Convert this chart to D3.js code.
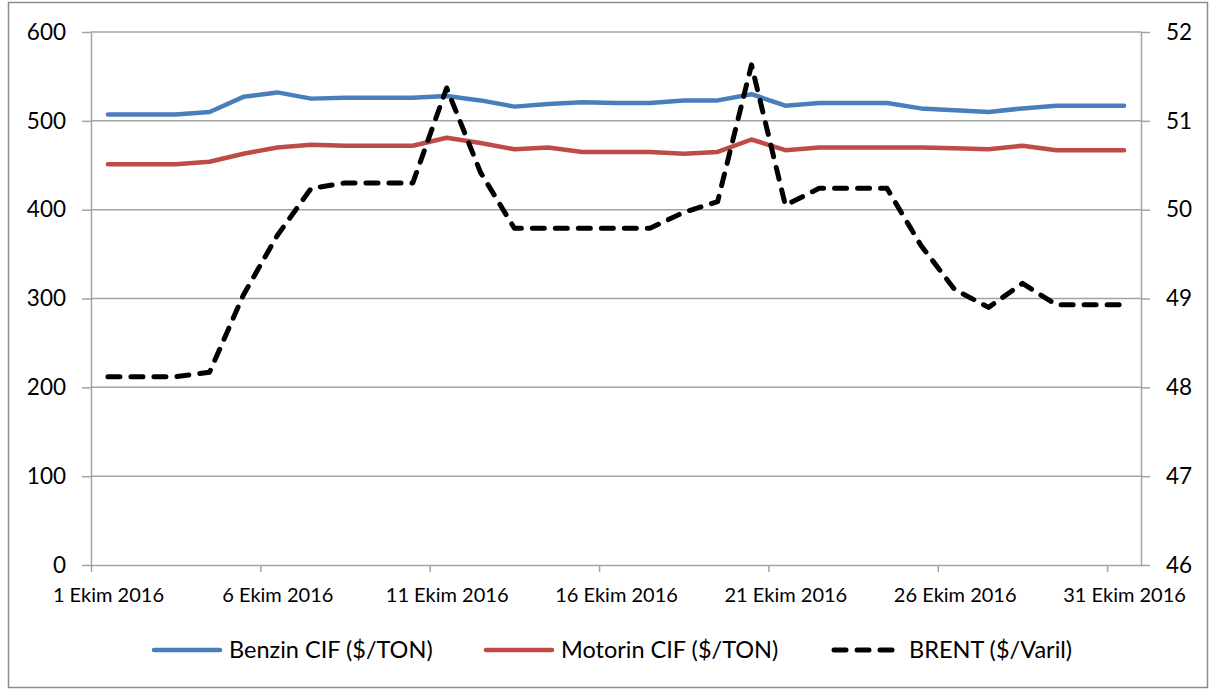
<!DOCTYPE html>
<html>
<head>
<meta charset="utf-8">
<script src="https://cdn.jsdelivr.net/npm/d3@7"></script>
<style>
  body { margin: 0; background: #fff; }
  svg { font-family: Lato, "Liberation Sans", sans-serif; }
</style>
</head>
<body>
<svg width="1210" height="690"></svg>
<script>
// October 2016, one value per day
const days = [1, 2, 3, 4, 5, 6, 7, 8, 9, 10, 11, 12, 13, 14, 15, 16, 17, 18, 19, 20, 21, 22, 23, 24, 25, 26, 27, 28, 29, 30, 31];
const benzin = [507, 507, 507, 510, 527, 532, 525, 526, 526, 526, 528, 523, 516, 519, 521, 520, 520, 523, 523, 530, 517, 520, 520, 520, 514, 512, 510, 514, 517, 517, 517];
const motorin = [451, 451, 451, 454, 463, 470, 473, 472, 472, 472, 481, 475, 468, 470, 465, 465, 465, 463, 465, 479, 467, 470, 470, 470, 470, 469, 468, 472, 467, 467, 467];
const brent = [48.12, 48.12, 48.12, 48.17, 49.04, 49.71, 50.24, 50.30, 50.30, 50.30, 51.37, 50.42, 49.79, 49.79, 49.79, 49.79, 49.79, 49.97, 50.09, 51.63, 50.05, 50.24, 50.24, 50.24, 49.60, 49.10, 48.90, 49.17, 48.93, 48.93, 48.93];

const xTickDays = [1, 6, 11, 16, 21, 26, 31];
const xTickLabels = ['1 Ekim 2016', '6 Ekim 2016', '11 Ekim 2016', '16 Ekim 2016', '21 Ekim 2016', '26 Ekim 2016', '31 Ekim 2016'];
const leftTicks = [0, 100, 200, 300, 400, 500, 600];
const rightTicks = [46, 47, 48, 49, 50, 51, 52];
const seriesNames = ['Benzin CIF ($/TON)', 'Motorin CIF ($/TON)', 'BRENT ($/Varil)'];

const margin = { top: 32, right: 69, bottom: 125, left: 91 };
const width = 1210 - margin.left - margin.right;
const height = 690 - margin.top - margin.bottom;
const grid = '#a3a3a3';
const dash = '12,11';

const svg = d3.select('svg');

// outer frame
svg.append('rect')
    .attr('x', 8.5).attr('y', 2.5)
    .attr('width', 1199).attr('height', 685)
    .attr('fill', 'none')
    .attr('stroke', '#8c8c8c')
    .attr('stroke-width', 1.5);

const g = svg.append('g')
    .attr('transform', `translate(${margin.left},${margin.top})`);

const day = d => new Date(2016, 9, d);
const mid = d => new Date(2016, 9, d, 12);

const x = d3.scaleTime()
    .domain([day(1), day(32)])
    .range([0, width]);

const y = d3.scaleLinear().domain([0, 600]).range([height, 0]);
const y2 = d3.scaleLinear().domain([46, 52]).range([height, 0]);

// gridlines
g.append('g')
    .selectAll('line')
    .data(leftTicks.slice(1))
    .enter().append('line')
    .attr('x1', 0).attr('x2', width)
    .attr('y1', d => y(d)).attr('y2', d => y(d))
    .attr('stroke', grid)
    .attr('stroke-width', 1.5);

const styleAxis = sel => {
    sel.selectAll('path, line').attr('stroke', grid).attr('stroke-width', 1.5);
    sel.selectAll('text').attr('fill', '#000');
};

g.append('g')
    .call(d3.axisLeft(y).tickValues(leftTicks).tickFormat(d3.format('d'))
        .tickSize(9).tickSizeOuter(0).tickPadding(16))
    .call(styleAxis)
    .selectAll('text').attr('font-size', 22.5).attr('font-family', 'Lato');

g.append('g')
    .attr('transform', `translate(${width},0)`)
    .call(d3.axisRight(y2).tickValues(rightTicks).tickFormat(d3.format('d'))
        .tickSize(9).tickSizeOuter(0).tickPadding(16))
    .call(styleAxis)
    .selectAll('text').attr('font-size', 22.5).attr('font-family', 'Lato');

const halfDay = x(mid(1)) - x(day(1));
g.append('g')
    .attr('transform', `translate(0,${height})`)
    .call(d3.axisBottom(x)
        .tickValues(xTickDays.map(day))
        .tickFormat((d, i) => xTickLabels[i])
        .tickSize(7).tickSizeOuter(0).tickPadding(16))
    .call(styleAxis)
    .selectAll('text')
    .attr('font-size', 20).attr('font-family', 'Lato')
    .attr('x', halfDay);

// series
const leftLine = vals => d3.line()
    .x((d, i) => x(mid(days[i])))
    .y(d => y(d))(vals);

g.append('path')
    .attr('d', leftLine(benzin))
    .attr('fill', 'none')
    .attr('stroke', '#4a7ebb')
    .attr('stroke-width', 4.5)
    .attr('stroke-linecap', 'round')
    .attr('stroke-linejoin', 'round');

g.append('path')
    .attr('d', leftLine(motorin))
    .attr('fill', 'none')
    .attr('stroke', '#be4b48')
    .attr('stroke-width', 4.5)
    .attr('stroke-linecap', 'round')
    .attr('stroke-linejoin', 'round');

g.append('path')
    .attr('d', d3.line().x((d, i) => x(mid(days[i]))).y(d => y2(d))(brent))
    .attr('fill', 'none')
    .attr('stroke', '#000')
    .attr('stroke-width', 5)
    .attr('stroke-dasharray', dash)
    .attr('stroke-linecap', 'round')
    .attr('stroke-linejoin', 'round');

// legend
const legend = svg.append('g').attr('transform', 'translate(0,650)');
const legendItems = [
    { x: 154, color: '#4a7ebb', dash: null, textX: 229 },
    { x: 486, color: '#be4b48', dash: null, textX: 561 },
    { x: 834, color: '#000', dash: dash, textX: 909 }
];
legendItems.forEach((it, i) => {
    legend.append('line')
        .attr('x1', it.x).attr('x2', it.x + 66)
        .attr('y1', 0).attr('y2', 0)
        .attr('stroke', it.color)
        .attr('stroke-width', it.dash ? 5 : 4.5)
        .attr('stroke-linecap', 'round')
        .attr('stroke-dasharray', it.dash);
    legend.append('text')
        .attr('x', it.textX)
        .attr('y', 0)
        .attr('dy', '0.35em')
        .attr('font-size', 23.5)
        .text(seriesNames[i]);
});
</script>
</body>
</html>
